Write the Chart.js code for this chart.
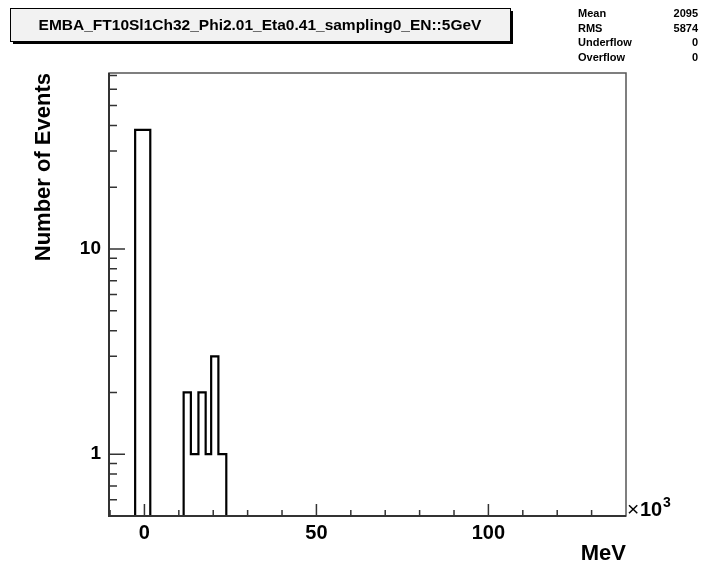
<!DOCTYPE html>
<html>
<head>
<meta charset="utf-8">
<script src="https://cdn.jsdelivr.net/npm/chart.js@4/dist/chart.umd.min.js"></script>
<style>
  html, body { margin: 0; padding: 0; background: #fff; }
  #wrap { width: 702px; height: 568px; }
</style>
</head>
<body>
<div id="wrap"><canvas id="histo" width="702" height="568"></canvas></div>
<script>
/* ============================
   Histogram data (x in 10^3 MeV)
============================ */
const binEdges = [-2.7, 1.7, 11.4, 13.5, 15.7, 17.8, 19.4, 21.5, 23.8];
const binCounts = [38, 0, 2, 1, 2, 1, 3, 1];

const xTicks = [-10, 0, 10, 20, 30, 40, 50, 60, 70, 80, 90, 100, 110, 120, 130, 140];
const xLabelled = [0, 50, 100];
const yTicks = [0.6, 0.7, 0.8, 0.9, 1, 2, 3, 4, 5, 6, 7, 8, 9, 10, 20, 30, 40, 50, 60, 70];
const yLabelled = [1, 10];

const titleText = 'EMBA_FT10Sl1Ch32_Phi2.01_Eta0.41_sampling0_EN::5GeV';
const statNames = ['Mean', 'RMS', 'Underflow', 'Overflow'];
const statValues = ['2095', '5874', '0', '0'];

const yMin = 0.5;
const yMax = 72;
const FONT = '"Liberation Sans", Arial, Helvetica, sans-serif';

/* ============================
   Outline points for a stepped line
============================ */
const outline = [{ x: binEdges[0], y: yMin }];
binCounts.forEach((c, i) => {
    outline.push({ x: binEdges[i], y: c > 0 ? c : yMin });
});
outline.push({ x: binEdges[binEdges.length - 1], y: yMin });

/* ============================
   ROOT-like frame, ticks, title box, stats
============================ */
const rootDecor = {
    id: 'rootDecor',
    afterDraw(chart) {
        const ctx = chart.ctx;
        const area = chart.chartArea;
        const xs = chart.scales.x;
        const ys = chart.scales.y;

        ctx.save();

        // frame
        ctx.strokeStyle = '#555';
        ctx.lineWidth = 1.5;
        ctx.strokeRect(area.left, area.top, area.right - area.left, area.bottom - area.top);

        // axes
        ctx.strokeStyle = '#333';
        ctx.lineWidth = 2;
        ctx.beginPath();
        ctx.moveTo(area.left, area.top);
        ctx.lineTo(area.left, area.bottom);
        ctx.lineTo(area.right, area.bottom);
        ctx.stroke();

        // tick marks (inside frame)
        ctx.lineWidth = 1.5;
        ctx.beginPath();
        xTicks.forEach(v => {
            const px = xs.getPixelForValue(v);
            if (px < area.left + 1 || px > area.right - 1) return;
            const len = xLabelled.includes(v) ? 12 : 6;
            ctx.moveTo(px, area.bottom);
            ctx.lineTo(px, area.bottom - len);
        });
        yTicks.forEach(v => {
            const py = ys.getPixelForValue(v);
            if (py < area.top || py > area.bottom) return;
            const len = yLabelled.includes(v) ? 16 : 8;
            ctx.moveTo(area.left, py);
            ctx.lineTo(area.left + len, py);
        });
        ctx.stroke();

        // x10^3 multiplier
        ctx.fillStyle = '#000';
        ctx.textBaseline = 'alphabetic';
        ctx.textAlign = 'left';
        ctx.font = '21px ' + FONT;
        ctx.fillText('\u00d7', area.right + 1, area.bottom);
        ctx.font = 'bold 20px ' + FONT;
        ctx.fillText('10', area.right + 14, area.bottom);
        ctx.font = 'bold 14px ' + FONT;
        ctx.fillText('3', area.right + 37, area.bottom - 9);

        // title box with shadow
        const bx = 10, by = 8, bw = 500, bh = 33;
        ctx.fillStyle = '#000';
        ctx.fillRect(bx + 3, by + 3, bw, bh);
        ctx.fillStyle = '#f2f2f2';
        ctx.fillRect(bx, by, bw, bh);
        ctx.strokeStyle = '#000';
        ctx.lineWidth = 1;
        ctx.strokeRect(bx + 0.5, by + 0.5, bw, bh);
        ctx.fillStyle = '#000';
        ctx.font = 'bold 15.5px ' + FONT;
        ctx.textAlign = 'center';
        ctx.textBaseline = 'middle';
        ctx.fillText(titleText, bx + bw / 2, by + bh / 2 + 1);

        // stats
        ctx.font = 'bold 11px ' + FONT;
        statNames.forEach((name, i) => {
            const y = 14 + i * 14.5;
            ctx.textAlign = 'left';
            ctx.fillText(name, 578, y);
            ctx.textAlign = 'right';
            ctx.fillText(statValues[i], 698, y);
        });

        ctx.restore();
    }
};

const ctx = document.getElementById('histo').getContext('2d');

new Chart(ctx, {
    type: 'line',
    data: {
        datasets: [{
            data: outline,
            stepped: 'before',
            borderColor: '#000',
            borderWidth: 2.2,
            pointRadius: 0,
            fill: false
        }]
    },
    options: {
        responsive: false,
        devicePixelRatio: 1,
        animation: false,
        layout: { padding: { left: 0, right: 76, top: 73, bottom: 0 } },
        plugins: {
            legend: { display: false },
            tooltip: { enabled: false }
        },
        scales: {
            x: {
                type: 'linear',
                min: -10.3,
                max: 140,
                grid: { display: false, drawTicks: false },
                border: { display: false },
                afterFit: scale => { scale.height = 52; },
                afterBuildTicks: scale => { scale.ticks = xTicks.map(v => ({ value: v })); },
                ticks: {
                    autoSkip: false,
                    maxRotation: 0,
                    padding: 5,
                    color: '#000',
                    font: { family: FONT, size: 20, weight: 'bold' },
                    callback: v => xLabelled.includes(v) ? String(v) : ''
                },
                title: {
                    display: true,
                    text: 'MeV',
                    align: 'end',
                    color: '#000',
                    font: { family: FONT, size: 22, weight: 'bold' },
                    padding: { top: 0, bottom: 1 }
                }
            },
            y: {
                type: 'logarithmic',
                min: yMin,
                max: yMax,
                grid: { display: false, drawTicks: false },
                border: { display: false },
                afterFit: scale => { scale.width = 109; },
                afterBuildTicks: scale => { scale.ticks = yTicks.map(v => ({ value: v })); },
                ticks: {
                    autoSkip: false,
                    padding: 8,
                    color: '#000',
                    font: { family: FONT, size: 19, weight: 'bold' },
                    callback: v => yLabelled.includes(v) ? String(v) : ''
                },
                title: {
                    display: true,
                    text: 'Number of Events',
                    align: 'end',
                    color: '#000',
                    font: { family: FONT, size: 22, weight: 'bold' },
                    padding: { top: 31, bottom: 0 }
                }
            }
        }
    },
    plugins: [rootDecor]
});
</script>
</body>
</html>
